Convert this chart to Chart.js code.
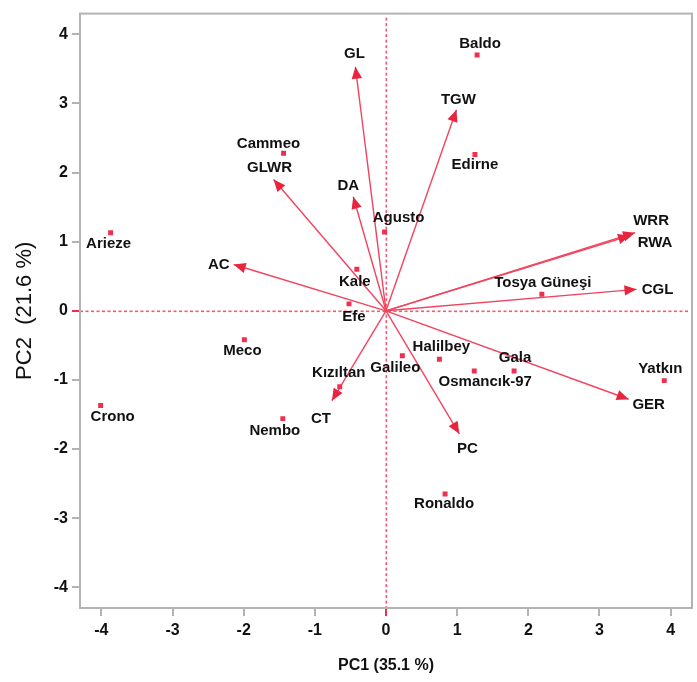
<!DOCTYPE html>
<html>
<head>
<meta charset="utf-8">
<script src="https://cdn.jsdelivr.net/npm/chart.js@4/dist/chart.umd.min.js"></script>
<style>
  html, body { margin: 0; padding: 0; background: #ffffff; }
  #wrap { width: 697px; height: 682px; position: relative; }
</style>
</head>
<body>
<div id="wrap"><canvas id="c" width="697" height="682"></canvas></div>
<script>
// ---- Data ----
const genotypes = ['Baldo','Edirne','Agusto','Kale','Efe','Tosya Güneşi','Cammeo','Arieze','Meco','Crono','Nembo','Kızıltan','Galileo','Halilbey','Osmancık-97','Gala','Yatkın','Ronaldo'];
const genotypePC1 = [1.28, 1.25, -0.02, -0.41, -0.52, 2.19, -1.44, -3.87, -1.99, -4.01, -1.45, -0.65, 0.23, 0.75, 1.24, 1.80, 3.91, 0.83];
const genotypePC2 = [3.70, 2.26, 1.14, 0.60, 0.10, 0.24, 2.28, 1.13, -0.42, -1.37, -1.56, -1.10, -0.65, -0.70, -0.87, -0.87, -1.01, -2.65];

const traits = ['GL','TGW','GLWR','DA','AC','WRR','RWA','CGL','GER','PC','CT'];
const traitPC1 = [-0.43, 0.99, -1.58, -0.46, -2.14, 3.50, 3.43, 3.52, 3.41, 1.03, -0.76];
const traitPC2 = [3.53, 2.91, 1.90, 1.65, 0.67, 1.13, 1.09, 0.31, -1.28, -1.78, -1.30];

const axisTicks = [-4, -3, -2, -1, 0, 1, 2, 3, 4];
const xTitle = 'PC1 (35.1 %)';
const yTitle = 'PC2  (21.6 %)';

// ---- Label placement (pixel offsets from the mark) ----
const genotypeLabelOffset = [[3,-11],[0,10],[14,-14],[-2,13],[5,13],[1,-11],[-15,-9],[-2,11],[-2,11],[12,11],[-8,12],[-1,-14],[-7,12],[2,-12],[11,11],[1,-13],[-4,-12],[-1,10]];
const traitLabelOffset = [[-1,-13],[2,-10],[-4,-12],[-5,-11],[-15,0],[16,-12],[25,7],[21,0],[20,6],[8,15],[-11,18]];

// ---- Styles ----
const RED = '#ee2f4e';
const ARROW = '#f2445f';
const TEXT = '#111111';
const FRAME = '#b3b3b3';
const FONT = '"Liberation Sans", Arial, sans-serif';

const pointData = genotypes.map((g, i) => ({ x: genotypePC1[i], y: genotypePC2[i] }));
const arrowSets = traits.map((t, i) => ({
  type: 'line',
  label: t,
  data: [{ x: 0, y: 0 }, { x: traitPC1[i], y: traitPC2[i] }],
  showLine: true,
  borderColor: ARROW,
  borderWidth: 1.4,
  pointRadius: 0,
  fill: false,
  order: 2
}));

const biplotPlugin = {
  id: 'biplot',
  beforeDatasetsDraw(chart) {
    const { ctx, chartArea: a, scales: { x, y } } = chart;
    ctx.save();
    ctx.fillStyle = '#f25a73';
    const x0 = Math.round(x.getPixelForValue(0));
    const y0 = Math.round(y.getPixelForValue(0));
    for (let p = a.top + 4; p < a.bottom; p += 5.5) {
      ctx.fillRect(x0 - 0.5, p, 1.6, Math.min(3, a.bottom - p));
    }
    for (let p = a.left; p < a.right - 4; p += 5.5) {
      ctx.fillRect(p, y0 - 0.5, 3, 1.6);
    }
    ctx.restore();
  },
  afterDatasetsDraw(chart) {
    const { ctx, chartArea: a, scales: { x, y } } = chart;
    ctx.save();
    // arrow heads
    ctx.fillStyle = '#e8243f';
    traits.forEach((t, i) => {
      const px = x.getPixelForValue(traitPC1[i]);
      const py = y.getPixelForValue(traitPC2[i]);
      const ox = x.getPixelForValue(0), oy = y.getPixelForValue(0);
      const ang = Math.atan2(py - oy, px - ox);
      const L = 12, W = 5.2;
      ctx.beginPath();
      ctx.moveTo(px, py);
      ctx.lineTo(px - L * Math.cos(ang) + W * Math.sin(ang), py - L * Math.sin(ang) - W * Math.cos(ang));
      ctx.lineTo(px - L * Math.cos(ang) - W * Math.sin(ang), py - L * Math.sin(ang) + W * Math.cos(ang));
      ctx.closePath();
      ctx.fill();
    });
    // labels
    ctx.fillStyle = TEXT;
    ctx.font = 'bold 15px ' + FONT;
    ctx.textAlign = 'center';
    ctx.textBaseline = 'middle';
    genotypes.forEach((g, i) => {
      const px = x.getPixelForValue(genotypePC1[i]);
      const py = y.getPixelForValue(genotypePC2[i]);
      ctx.fillText(g, px + genotypeLabelOffset[i][0], py + genotypeLabelOffset[i][1]);
    });
    traits.forEach((t, i) => {
      const px = x.getPixelForValue(traitPC1[i]);
      const py = y.getPixelForValue(traitPC2[i]);
      ctx.fillText(t, px + traitLabelOffset[i][0], py + traitLabelOffset[i][1]);
    });
    // frame
    ctx.strokeStyle = FRAME;
    ctx.lineWidth = 2;
    ctx.strokeRect(a.left, a.top, a.right - a.left, a.bottom - a.top);
    ctx.restore();
  }
};

const tickColor = c => (c.tick && c.tick.value === 0) ? RED : FRAME;

new Chart(document.getElementById('c'), {
  type: 'scatter',
  data: {
    datasets: [
      ...arrowSets,
      {
        label: 'Genotypes',
        data: pointData,
        pointStyle: 'rect',
        pointRadius: 3.5,
        backgroundColor: RED,
        borderColor: RED,
        borderWidth: 0,
        order: 1
      }
    ]
  },
  options: {
    responsive: false,
    animation: false,
    devicePixelRatio: 1,
    layout: { padding: { top: 10, right: 5, left: 0, bottom: 0 } },
    plugins: { legend: { display: false }, tooltip: { enabled: false } },
    scales: {
      x: {
        type: 'linear',
        min: -4.3, max: 4.3,
        afterFit: s => { s.height = 74; },
        afterBuildTicks: s => { s.ticks = axisTicks.map(v => ({ value: v })); },
        ticks: { stepSize: 1, includeBounds: false, color: TEXT, font: { family: FONT, size: 16, weight: 'bold' }, padding: 5, maxRotation: 0 },
        grid: { drawOnChartArea: false, drawTicks: true, tickLength: 8, lineWidth: 2, color: tickColor },
        border: { display: false },
        title: { display: true, text: xTitle, color: TEXT, font: { family: FONT, size: 16, weight: 'bold' }, padding: { top: 0, bottom: 7 } }
      },
      y: {
        type: 'linear',
        min: -4.3, max: 4.3,
        afterFit: s => { s.width = 80; },
        afterBuildTicks: s => { s.ticks = axisTicks.map(v => ({ value: v })); },
        ticks: { stepSize: 1, includeBounds: false, color: TEXT, font: { family: FONT, size: 16, weight: 'bold' }, padding: 4 },
        grid: { drawOnChartArea: false, drawTicks: true, tickLength: 8, lineWidth: 2, color: tickColor },
        border: { display: false },
        title: { display: true, text: yTitle, color: TEXT, font: { family: FONT, size: 22, weight: 'normal' }, padding: { top: 12, bottom: 0 } }
      }
    }
  },
  plugins: [biplotPlugin]
});
</script>
</body>
</html>
